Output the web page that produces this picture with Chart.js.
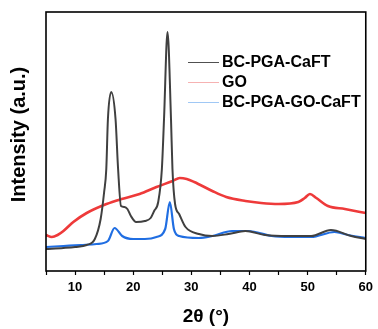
<!DOCTYPE html>
<html>
<head>
<meta charset="utf-8">
<script src="https://cdn.jsdelivr.net/npm/chart.js@4/dist/chart.umd.min.js"></script>
<style>
  html, body { margin: 0; padding: 0; background: #fff; }
  #wrap { width: 378px; height: 329px; }
</style>
</head>
<body>
<div id="wrap"><canvas id="xrdChart"></canvas></div>
<script>
// XRD patterns, 2theta (deg) vs intensity (a.u.)
const seriesNames = ['BC-PGA-CaFT', 'GO', 'BC-PGA-GO-CaFT'];
const seriesColors = ['rgb(64, 64, 64)', 'rgb(238, 58, 58)', 'rgb(32, 110, 226)'];
const legendColors = ['rgb(80, 80, 80)', 'rgb(246, 178, 178)', 'rgb(160, 200, 245)'];

const thetaBlack = [5, 8, 10, 12, 13.4, 14.4, 15, 15.37, 15.65, 16.22, 16.96, 17.4, 17.9, 18.5, 19, 19.6, 20.5, 22, 23, 23.6, 24.3, 24.93, 25.3, 25.9, 26.5, 26.75, 27.2, 27.9, 29, 31.3, 33.6, 36.4, 39.3, 42.7, 46.7, 50.6, 54, 57.5, 60];
const valBlack   = [21, 22, 23, 25, 31, 51, 78, 101, 151, 178, 151, 101, 64, 63, 61, 54, 48, 49, 52, 59, 68, 101, 151, 238, 151, 101, 66, 56, 43, 36, 34, 36, 39, 35, 34, 34, 40, 34, 31];

const thetaRed = [5, 6, 7, 8, 9.7, 12, 15.4, 18, 21.1, 24, 26.8, 28, 29.2, 30.5, 33.6, 36, 39.3, 42, 45, 48.4, 49.5, 50.4, 51.5, 53.5, 56.4, 60];
const valRed   = [35, 33, 35, 39, 48, 57, 66, 71, 76, 83, 89, 92, 91, 88, 79, 73, 69, 67, 66, 68, 72, 76, 72, 64, 61, 57];

const thetaBlue = [5, 8, 11, 13.7, 15.65, 16.8, 18.1, 20, 22, 24, 25.5, 26.3, 27, 27.9, 31.3, 33.6, 37, 39.8, 43.8, 47, 50.6, 54.6, 57, 60];
const valBlue   = [23, 24, 25, 26, 29, 42, 34, 31, 31, 33, 41, 68, 41, 34, 32, 34, 39, 39, 34, 33, 33, 38, 35, 32];

const xTicks = [10, 20, 30, 40, 50, 60];

function toPoints(xs, ys) {
    return xs.map(function(x, i) { return {x: x, y: ys[i]}; });
}

const allX = [thetaBlack, thetaRed, thetaBlue];
const allY = [valBlack, valRed, valBlue];
const widths = [2, 2.6, 2.2];

const datasets = seriesNames.map(function(name, i) {
    return {
        label: name,
        data: toPoints(allX[i], allY[i]),
        borderColor: seriesColors[i],
        borderWidth: widths[i],
        pointRadius: 0,
        cubicInterpolationMode: 'monotone',
        fill: false
    };
});

// frame, axis titles and legend
const decor = {
    id: 'decor',
    afterDraw(chart) {
        const ctx = chart.ctx;
        const a = chart.chartArea;
        ctx.save();
        ctx.strokeStyle = '#000';
        ctx.lineWidth = 1.6;
        ctx.strokeRect(a.left, a.top, a.right - a.left, a.bottom - a.top);

        ctx.fillStyle = '#000';
        ctx.textAlign = 'center';
        ctx.textBaseline = 'middle';
        ctx.font = 'bold 19px "Liberation Sans", Arial, sans-serif';
        ctx.fillText('2\u03b8 (\u00b0)', (a.left + a.right) / 2, 317);

        ctx.save();
        ctx.translate(19, 134.5);
        ctx.rotate(-Math.PI / 2);
        ctx.font = 'bold 20px "Liberation Sans", Arial, sans-serif';
        ctx.fillText('Intensity (a.u.)', 0, 0);
        ctx.restore();

        ctx.font = 'bold 16px "Liberation Sans", Arial, sans-serif';
        ctx.textAlign = 'left';
        const rows = [62, 82, 102];
        seriesNames.forEach(function(name, i) {
            ctx.strokeStyle = legendColors[i];
            ctx.lineWidth = 1;
            ctx.beginPath();
            ctx.moveTo(188, rows[i] + 0.5);
            ctx.lineTo(219, rows[i] + 0.5);
            ctx.stroke();
            ctx.fillStyle = '#000';
            ctx.fillText(name, 222, rows[i] + 1);
        });
        ctx.restore();
    }
};

const config = {
    type: 'line',
    data: { datasets: datasets },
    options: {
        responsive: true,
        maintainAspectRatio: false,
        animation: false,
        layout: { padding: { top: 12, right: 10, left: 0, bottom: 0 } },
        plugins: {
            legend: { display: false },
            tooltip: { enabled: false }
        },
        scales: {
            x: {
                type: 'linear',
                min: 5,
                max: 60,
                afterFit: function(scale) { scale.height = 58; },
                grid: {
                    drawOnChartArea: false,
                    color: '#000',
                    tickLength: 4,
                    tickWidth: 1.2
                },
                border: { display: false },
                ticks: {
                    stepSize: 5,
                    autoSkip: false,
                    maxRotation: 0,
                    padding: 5,
                    color: '#000',
                    font: { family: '"Liberation Sans", Arial, sans-serif', size: 13, weight: 'bold' },
                    callback: function(v) { return xTicks.includes(v) ? v : ''; }
                }
            },
            y: {
                min: -1,
                max: 258,
                afterFit: function(scale) { scale.width = 46; },
                grid: { display: false },
                border: { display: false },
                ticks: { display: false }
            }
        }
    },
    plugins: [decor]
};

const xrdChart = new Chart(document.getElementById('xrdChart'), config);
</script>
</body>
</html>
